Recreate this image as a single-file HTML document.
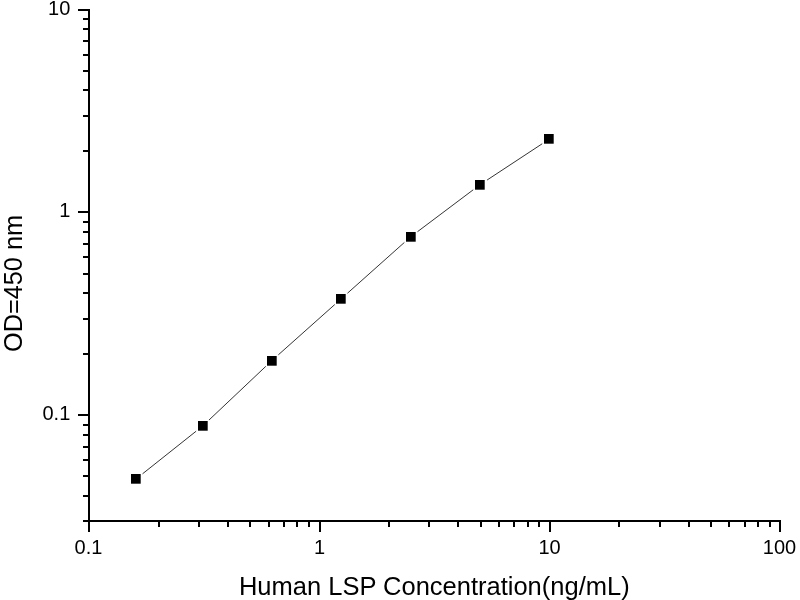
<!DOCTYPE html>
<html lang="en"><head><meta charset="utf-8"><title>Human LSP Concentration standard curve</title>
<style>html,body{margin:0;padding:0;background:#fff;}body{width:800px;height:600px;overflow:hidden;}svg{display:block;}text{font-family:"Liberation Sans",sans-serif;fill:#000;}</style></head><body>
<svg width="800" height="600" viewBox="0 0 800 600">
<rect x="0" y="0" width="800" height="600" fill="#fff"/>
<g fill="#000" shape-rendering="crispEdges">
<rect x="88" y="9" width="2" height="513"/>
<rect x="88" y="520" width="693" height="2"/>
<rect x="88" y="520" width="2" height="12"/>
<rect x="158" y="520" width="2" height="7"/>
<rect x="198" y="520" width="2" height="7"/>
<rect x="227" y="520" width="2" height="7"/>
<rect x="249" y="520" width="2" height="7"/>
<rect x="268" y="520" width="2" height="7"/>
<rect x="283" y="520" width="2" height="7"/>
<rect x="296" y="520" width="2" height="7"/>
<rect x="308" y="520" width="2" height="7"/>
<rect x="319" y="520" width="2" height="12"/>
<rect x="388" y="520" width="2" height="7"/>
<rect x="428" y="520" width="2" height="7"/>
<rect x="457" y="520" width="2" height="7"/>
<rect x="480" y="520" width="2" height="7"/>
<rect x="498" y="520" width="2" height="7"/>
<rect x="513" y="520" width="2" height="7"/>
<rect x="527" y="520" width="2" height="7"/>
<rect x="538" y="520" width="2" height="7"/>
<rect x="549" y="520" width="2" height="12"/>
<rect x="618" y="520" width="2" height="7"/>
<rect x="659" y="520" width="2" height="7"/>
<rect x="688" y="520" width="2" height="7"/>
<rect x="710" y="520" width="2" height="7"/>
<rect x="728" y="520" width="2" height="7"/>
<rect x="744" y="520" width="2" height="7"/>
<rect x="757" y="520" width="2" height="7"/>
<rect x="769" y="520" width="2" height="7"/>
<rect x="779" y="520" width="2" height="12"/>
<rect x="78" y="9" width="12" height="2"/>
<rect x="78" y="211" width="12" height="2"/>
<rect x="78" y="414" width="12" height="2"/>
<rect x="83" y="18" width="7" height="2"/>
<rect x="83" y="28" width="7" height="2"/>
<rect x="83" y="40" width="7" height="2"/>
<rect x="83" y="54" width="7" height="2"/>
<rect x="83" y="70" width="7" height="2"/>
<rect x="83" y="89" width="7" height="2"/>
<rect x="83" y="115" width="7" height="2"/>
<rect x="83" y="150" width="7" height="2"/>
<rect x="83" y="221" width="7" height="2"/>
<rect x="83" y="231" width="7" height="2"/>
<rect x="83" y="243" width="7" height="2"/>
<rect x="83" y="256" width="7" height="2"/>
<rect x="83" y="273" width="7" height="2"/>
<rect x="83" y="292" width="7" height="2"/>
<rect x="83" y="318" width="7" height="2"/>
<rect x="83" y="353" width="7" height="2"/>
<rect x="83" y="424" width="7" height="2"/>
<rect x="83" y="434" width="7" height="2"/>
<rect x="83" y="446" width="7" height="2"/>
<rect x="83" y="459" width="7" height="2"/>
<rect x="83" y="475" width="7" height="2"/>
<rect x="83" y="495" width="7" height="2"/>
<rect x="83" y="520" width="7" height="2"/>
</g>
<g stroke="#000" stroke-width="0.8" fill="none">
<line x1="142.55" y1="473.81" x2="196.15" y2="431.19"/>
<line x1="208.98" y1="420.06" x2="265.82" y2="366.34"/>
<line x1="278.34" y1="354.84" x2="334.76" y2="304.56"/>
<line x1="347.44" y1="293.24" x2="404.36" y2="242.46"/>
<line x1="417.49" y1="231.69" x2="473.21" y2="189.81"/>
<line x1="487.10" y1="180.03" x2="542.20" y2="143.77"/>
</g>
<g fill="#000">
<rect x="131" y="474" width="9.7" height="9.7"/>
<rect x="198" y="421" width="9.7" height="9.7"/>
<rect x="267" y="356" width="9.7" height="9.7"/>
<rect x="336" y="294" width="9.7" height="9.7"/>
<rect x="406" y="232" width="9.7" height="9.7"/>
<rect x="475" y="180" width="9.7" height="9.7"/>
<rect x="544" y="134" width="9.7" height="9.7"/>
</g>
<g font-size="20px" text-anchor="middle">
<text x="88.5" y="553.8">0.1</text>
<text x="319.5" y="553.8">1</text>
<text x="549.5" y="553.8">10</text>
<text x="779.5" y="553.8">100</text>
</g>
<g font-size="20px" text-anchor="end">
<text x="70.3" y="419.9">0.1</text>
<text x="70.3" y="216.9">1</text>
<text x="70.3" y="14.9">10</text>
</g>
<text x="434.3" y="594.8" font-size="25.5px" text-anchor="middle">Human LSP Concentration(ng/mL)</text>
<text transform="translate(21.8,283.5) rotate(-90)" font-size="25.3px" text-anchor="middle">OD=450 nm</text>
</svg></body></html>
